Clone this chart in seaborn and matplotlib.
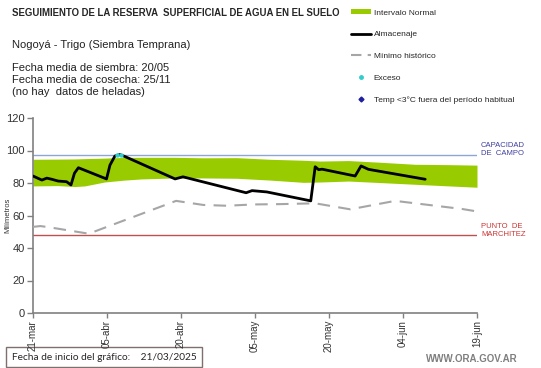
import numpy as np
import pandas as pd
import seaborn as sns
import matplotlib.pyplot as plt
from matplotlib.lines import Line2D
from matplotlib.patches import Patch

sns.set_style("ticks")
plt.rcParams['font.family'] = ['Liberation Sans', 'DejaVu Sans']

# Días desde el 21/03/2025
tick_days = [0, 15, 30, 45, 60, 75, 90]
tick_labels = ['21-mar', '05-abr', '20-abr', '05-may', '20-may', '04-jun', '19-jun']

# Intervalo normal (banda verde)
band_days = [0, 5, 8.5, 10.5, 14.5, 18.6, 22, 28.8, 34.5, 41.3, 48, 54.8, 58.2, 64, 70.8, 77.5, 84.3, 90]
band_top = [94.6, 94.7, 94.8, 95.0, 95.3, 95.8, 95.8, 95.8, 95.5, 95.6, 94.6, 94.0, 93.5, 93.8, 92.7, 91.5, 91.3, 91.0]
band_bottom = [78.2, 78.4, 77.8, 78.2, 80.6, 81.8, 82.5, 83.1, 83.1, 82.9, 81.8, 80.4, 80.6, 81.2, 80.2, 79.2, 78.2, 77.4]

# Almacenaje
alm_days = [0, 1.8, 2.8, 3.8, 5.1, 6.8, 7.7, 8.4, 9.2, 14.9, 15.6, 16.6, 17.6, 18.7,
            28.8, 30.4, 43.2, 44.4, 47.4, 56.3, 57.2, 57.9, 58.6, 65.3, 66.5, 68.0, 79.5]
alm_vals = [84.3, 81.8, 83.0, 82.3, 81.2, 80.8, 78.8, 86.0, 89.4, 82.5, 91.0, 96.6, 97.5, 96.2,
            82.5, 83.8, 74.0, 75.3, 74.5, 69.0, 90.0, 88.2, 88.5, 84.3, 90.5, 88.4, 82.3]

# Mínimo histórico
min_days = [0, 1.5, 3.4, 11.3, 29, 34.5, 39.3, 44.7, 50.1, 57.2, 64.3, 73.4, 87, 90]
min_vals = [53.0, 53.5, 52.7, 48.8, 69.0, 66.5, 66.0, 66.8, 67.0, 67.5, 63.8, 69.0, 64.0, 62.5]

# Exceso
exceso_days = [17.1, 17.9]
exceso_vals = [97.0, 97.0]

capacidad_campo = 97
punto_marchitez = 48

fig = plt.figure(figsize=(5.41, 3.68), dpi=100)
ax = fig.add_axes([33 / 541, 1 - 313 / 368, 444 / 541, 195 / 368])
ax.set_zorder(2)
ax.patch.set_alpha(0)

ax.fill_between(band_days, band_bottom, band_top, color='#99cc00', linewidth=0, zorder=1)
ax.axhline(capacidad_campo, color='#8ea6d6', linewidth=1, zorder=2)
ax.axhline(punto_marchitez, color='#c0504d', linewidth=1, zorder=2)

sns.lineplot(x=min_days, y=min_vals, ax=ax, color='#a6a6a6', linewidth=1.5,
             linestyle=(0, (6, 4)), zorder=3)
sns.lineplot(x=alm_days, y=alm_vals, ax=ax, color='black', linewidth=2, zorder=4)
sns.scatterplot(x=exceso_days, y=exceso_vals, ax=ax, color='#33cccc', s=10,
                linewidth=0, zorder=5)

ax.set_xlim(0, 90)
ax.set_ylim(0, 120)
ax.set_yticks(range(0, 121, 20))
ax.set_xticks(tick_days)
ax.set_xticklabels(tick_labels, rotation=90, fontsize=7, color='#333333')
ax.tick_params(axis='y', labelsize=8, colors='#333333', length=4, width=1, pad=2)
ax.tick_params(axis='x', length=3.5, width=1, pad=1.5, color='#808080')
ax.tick_params(axis='y', color='#808080')
for s in ['left', 'bottom']:
    ax.spines[s].set_color('#808080')
    ax.spines[s].set_linewidth(1.2)
ax.spines['top'].set_visible(False)
ax.spines['right'].set_visible(False)
ax.set_xlabel('')
ax.set_ylabel('')

fig.text(8 / 541, 1 - 215 / 368, 'Milímetros', rotation=90, fontsize=5.5,
         ha='center', va='center', color='#333333')

# Etiquetas de las líneas de referencia
fig.text(481 / 541, 1 - 150 / 368, 'CAPACIDAD\nDE  CAMPO', fontsize=5.5, color='#3f3fa0',
         ha='left', va='center', linespacing=1.2)
fig.text(481 / 541, 1 - 230 / 368, 'PUNTO  DE\nMARCHITEZ', fontsize=5.5, color='#cc3333',
         ha='left', va='center', linespacing=1.2)

# Títulos y textos
fig.text(12 / 541, 1 - 13 / 368, 'SEGUIMIENTO DE LA RESERVA  SUPERFICIAL DE AGUA EN EL SUELO',
         fontsize=6.9, fontweight='bold', ha='left', va='center')
fig.text(12 / 541, 1 - 45 / 368, 'Nogoyá - Trigo (Siembra Temprana)', fontsize=8,
         ha='left', va='center', color='#222222')
fig.text(12 / 541, 1 - 63 / 368,
         'Fecha media de siembra: 20/05\nFecha media de cosecha: 25/11\n(no hay  datos de heladas)',
         fontsize=8, ha='left', va='top', color='#222222', linespacing=1.25)

# Leyenda
handles = [
    Patch(facecolor='#99cc00', edgecolor='none'),
    Line2D([0], [0], color='black', linewidth=2),
    Line2D([0], [0], color='#a6a6a6', linewidth=1.5, linestyle=(0, (5, 3))),
    Line2D([0], [0], color='#33cccc', marker='o', markersize=2.5, linestyle='none'),
    Line2D([0], [0], color='#1f1f9f', marker='D', markersize=2.5, linestyle='none'),
]
labels = ['Intervalo Normal', 'Almacenaje', 'Mínimo histórico', 'Exceso',
          'Temp <3°C fuera del período habitual']
fig.legend(handles, labels, loc='upper left', bbox_to_anchor=(347 / 541, 1 - 5 / 368),
           frameon=False, fontsize=6, handlelength=2.4, handleheight=0.6,
           labelspacing=1.7, handletextpad=0.3, borderpad=0)

# Recuadro de fecha de inicio
fig.text(12 / 541, 1 - 357 / 368, 'Fecha de inicio del gráfico:    21/03/2025',
         fontsize=7.3, family=['Lato', 'DejaVu Sans'], ha='left', va='center', zorder=0,
         bbox=dict(boxstyle='square,pad=0.55', facecolor='white', edgecolor='#7f6f6f',
                   linewidth=1))
fig.text(472 / 541, 1 - 359 / 368, 'WWW.ORA.GOV.AR', fontsize=7, fontweight='bold',
         color='#7f7f7f', ha='center', va='center')

fig.savefig('out.png', dpi=100)
